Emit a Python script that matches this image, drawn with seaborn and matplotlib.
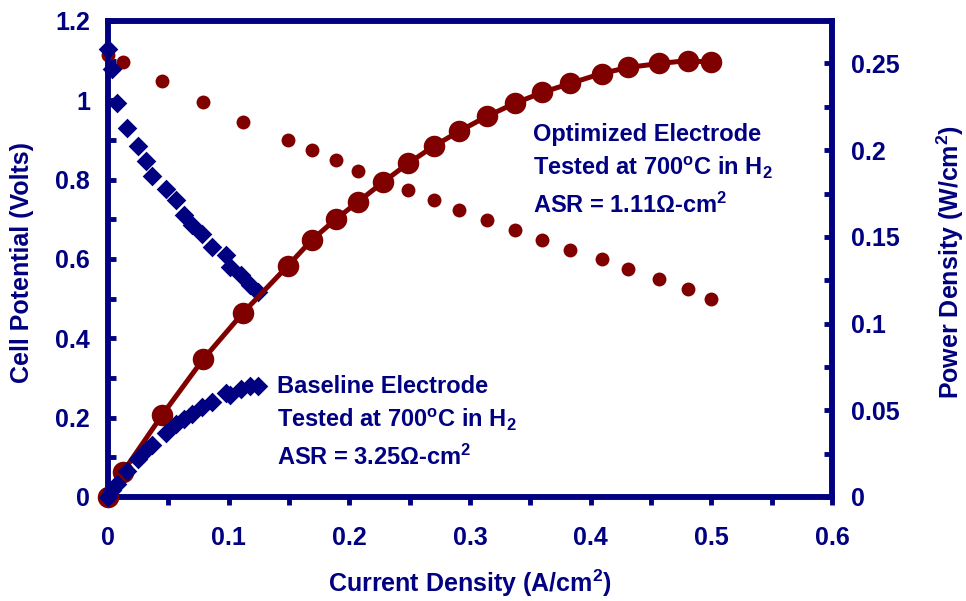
import matplotlib
matplotlib.use("Agg")
import matplotlib.pyplot as plt
import seaborn as sns
from matplotlib.ticker import MultipleLocator, FuncFormatter

# ---------------- data ----------------
opt_current = [0, 0.0124, 0.0447, 0.0787, 0.112, 0.149, 0.169, 0.189, 0.207, 0.228, 0.249,
               0.270, 0.291, 0.314, 0.337, 0.360, 0.383, 0.409, 0.431, 0.457, 0.481, 0.500]
opt_voltage = [1.115, 1.097, 1.049, 0.997, 0.946, 0.899, 0.874, 0.849, 0.823, 0.798, 0.773,
               0.748, 0.723, 0.698, 0.673, 0.648, 0.623, 0.600, 0.575, 0.550, 0.525, 0.500]
opt_power = [0, 0.0144, 0.0471, 0.0793, 0.1063, 0.1333, 0.1483, 0.1603, 0.1701, 0.1816, 0.1925,
             0.2023, 0.2109, 0.2195, 0.2270, 0.2333, 0.2385, 0.2442, 0.2477, 0.2500, 0.2517, 0.2506]

base_current = [0, 0.0033, 0.0075, 0.0157, 0.0249, 0.0315, 0.0365, 0.048, 0.056, 0.063,
                0.070, 0.078, 0.086, 0.0978, 0.101, 0.110, 0.118, 0.124]
base_voltage = [1.13, 1.08, 0.994, 0.929, 0.884, 0.846, 0.808, 0.776, 0.748, 0.710,
                0.685, 0.663, 0.630, 0.610, 0.580, 0.560, 0.535, 0.517]
base_power = [0, 0.004, 0.0075, 0.015, 0.022, 0.027, 0.030, 0.037, 0.042, 0.045,
              0.048, 0.052, 0.055, 0.060, 0.059, 0.062, 0.064, 0.064]

x_label = "Current Density (A/cm$^{2}$)"
y_label = "Cell Potential (Volts)"
y2_label = "Power Density (W/cm$^{2}$)"
opt_text = ["Optimized Electrode", "Tested at 700$^{o}$C in H$_{2}$", "ASR = 1.11\u03a9-cm$^{2}$"]
base_text = ["Baseline Electrode", "Tested at 700$^{o}$C in H$_{2}$", "ASR = 3.25\u03a9-cm$^{2}$"]

NAVY = "#000080"
MAROON = "#800000"

# ---------------- style ----------------
sns.set_style("white")
plt.rcParams["font.family"] = ["Liberation Sans", "DejaVu Sans"]
plt.rcParams["font.weight"] = "bold"
plt.rcParams["mathtext.fontset"] = "custom"
plt.rcParams["mathtext.rm"] = "Liberation Sans:bold"
plt.rcParams["mathtext.bf"] = "Liberation Sans:bold"
plt.rcParams["mathtext.it"] = "Liberation Sans:bold"
plt.rcParams["mathtext.default"] = "rm"

W, H = 966, 601
fig = plt.figure(figsize=(W / 100, H / 100), dpi=100)
L, R, T, B = 108, 832, 21, 497
ax = fig.add_axes([L / W, 1 - B / H, (R - L) / W, (B - T) / H])
ax2 = ax.twinx()

# ---------------- marks ----------------
sns.scatterplot(x=opt_current, y=opt_voltage, ax=ax, color=MAROON, marker="o", s=100,
                linewidth=0, zorder=3, clip_on=False)
sns.scatterplot(x=base_current, y=base_voltage, ax=ax, color=NAVY, marker="D", s=100,
                linewidth=0, zorder=4, clip_on=False)
sns.lineplot(x=opt_current, y=opt_power, ax=ax2, color=MAROON, linewidth=3.6, marker="o",
             markersize=15.5, markeredgewidth=0, zorder=3, clip_on=False)
sns.scatterplot(x=base_current, y=base_power, ax=ax2, color=NAVY, marker="D", s=100,
                linewidth=0, zorder=4, clip_on=False)

# ---------------- axes ----------------
ax.set_xlim(0, 0.6)
ax.set_ylim(0, 1.2)
ax2.set_ylim(0, 0.2745)
ax.set_xlabel("")
ax.set_ylabel("")
ax2.set_ylabel("")

fmt = FuncFormatter(lambda v, p: f"{v:g}")
ax.xaxis.set_major_locator(MultipleLocator(0.1))
ax.xaxis.set_minor_locator(MultipleLocator(0.05))
ax.yaxis.set_major_locator(MultipleLocator(0.2))
ax.yaxis.set_minor_locator(MultipleLocator(0.1))
ax2.yaxis.set_major_locator(MultipleLocator(0.05))
ax2.yaxis.set_minor_locator(MultipleLocator(0.025))
ax.xaxis.set_major_formatter(fmt)
ax.yaxis.set_major_formatter(fmt)
ax2.yaxis.set_major_formatter(fmt)

for a in (ax, ax2):
    for s in a.spines.values():
        s.set_visible(True)
        s.set_color(NAVY)
        s.set_linewidth(4)

ax.tick_params(axis="x", which="both", direction="out", length=6, width=3.5, color=NAVY,
               labelsize=18, labelcolor=NAVY, pad=15, top=False, bottom=True)
ax.tick_params(axis="y", which="both", direction="in", length=6, width=3.5, color=NAVY,
               labelsize=18, labelcolor=NAVY, pad=13, left=True, right=False)
ax2.tick_params(axis="y", which="both", direction="in", length=6, width=3.5, color=NAVY,
                labelsize=18, labelcolor=NAVY, pad=14, right=True, left=False)
for lab in ax.get_xticklabels() + ax.get_yticklabels() + ax2.get_yticklabels():
    lab.set_fontweight("bold")

# ---------------- labels ----------------
fig.text((L + R) / 2 / W, 1 - 592 / H, x_label, ha="center", va="baseline",
         fontsize=18, fontweight="bold", color=NAVY)
fig.text(22 / W, 1 - 262 / H, y_label, ha="center", va="center", rotation=90,
         fontsize=18, fontweight="bold", color=NAVY)
fig.text(950 / W, 1 - 262 / H, y2_label, ha="center", va="center", rotation=90,
         fontsize=18, fontweight="bold", color=NAVY)

def ypix(y):
    return (B - y) / (B - T)

for txt, yb in zip(opt_text, [141, 175, 213]):
    ax.text((533 - L) / (R - L), ypix(yb), txt, transform=ax.transAxes, ha="left",
            va="baseline", fontsize=17, fontweight="bold", color=NAVY, zorder=6)
for txt, yb in zip(base_text, [393, 427, 465]):
    ax.text((277 - L) / (R - L), ypix(yb), txt, transform=ax.transAxes, ha="left",
            va="baseline", fontsize=17, fontweight="bold", color=NAVY, zorder=6)

fig.savefig("out.png", dpi=100, facecolor="white")
